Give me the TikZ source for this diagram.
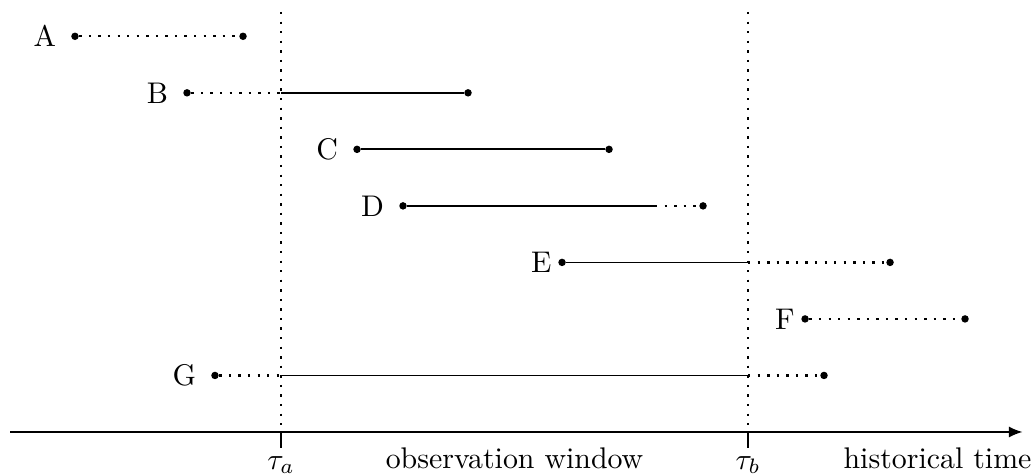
\documentclass[tikz,border=0pt]{standalone}
\usepackage{tikz}
\usetikzlibrary{arrows.meta,positioning}
\tikzset{
  endpt/.style={circle, fill=black, inner sep=0pt, minimum size=2.5pt},
  tag/.style={inner sep=1pt},
  seen/.style={line width=0.6pt},
  unseen/.style={line width=0.8pt, dash pattern=on 0.8pt off 2.4pt},
  window/.style={line width=0.8pt, dash pattern=on 0.8pt off 2.4pt},
  axis/.style={-{Latex[length=1.6mm,width=1.3mm]}, line width=0.6pt},
}
\begin{document}
\begin{tikzpicture}[node distance=1.3mm]
    \useasboundingbox (0,-0.506) rectangle (12.176,5.082);
    % observation window borders
    \coordinate (ta) at (3.306,0);      \coordinate (tb) at (8.8,0);
    \coordinate (ta top) at (3.306,4.941); \coordinate (tb top) at (8.8,4.941);
    \coordinate (ax0) at (0.118,0);     \coordinate (ax1) at (12.03,0);
    \draw[axis] (ax0) -- (ax1);
    \draw[window] (ta top) -- (ta);     \draw[window] (tb top) -- (tb);
    \draw[seen] (ta) -- ++(0,-0.188) coordinate (ta low);
    \draw[seen] (tb) -- ++(0,-0.188) coordinate (tb low);
    \node[anchor=base] (lta) at (3.306,-0.44) {$\tau_a$};
    \node[anchor=base] (ltb) at (8.8,-0.44) {$\tau_b$};
    \node[anchor=base] (low) at (6.053,-0.435) {observation window};
    \node[anchor=base east, inner sep=0pt] (lht) at (12.141,-0.435) {historical time};

    % A
    \node[endpt] (a0) at (0.882,4.655) {};  \node[endpt] (a1) at (2.859,4.655) {};
    \node[tag, left=of a0] (la) {A};
    \draw[unseen] (a0) -- (a1);
    % B
    \node[endpt] (b0) at (2.2,3.99) {};     \node[endpt] (b1) at (5.506,3.99) {};
    \coordinate (b in) at (3.306,3.99);
    \node[tag, left=of b0] (lb) {B};
    \draw[unseen] (b0) -- (b in); \draw[seen] (b in) -- (b1);
    % C
    \node[endpt] (c0) at (4.2,3.325) {};    \node[endpt] (c1) at (7.165,3.325) {};
    \node[tag, left=of c0] (lc) {C};
    \draw[seen] (c0) -- (c1);
    % D
    \node[endpt] (d0) at (4.741,2.66) {};   \node[endpt] (d1) at (8.271,2.66) {};
    \coordinate (d out) at (7.706,2.66);
    \node[tag, left=of d0] (ld) {D};
    \draw[seen] (d0) -- (d out); \draw[unseen] (d out) -- (d1);
    % E
    \node[endpt] (e0) at (6.612,1.995) {};  \node[endpt] (e1) at (10.471,1.995) {};
    \coordinate (e out) at (8.8,1.995);
    \node[tag, left=0.3mm of e0] (le) {E};
    \draw[seen] (e0) -- (e out); \draw[unseen] (e out) -- (e1);
    % F
    \node[endpt] (f0) at (9.471,1.33) {};   \node[endpt] (f1) at (11.353,1.33) {};
    \node[tag, left=0.3mm of f0] (lf) {F};
    \draw[unseen] (f0) -- (f1);
    % G
    \node[endpt] (g0) at (2.529,0.665) {};  \node[endpt] (g1) at (9.694,0.665) {};
    \coordinate (g in) at (3.306,0.665);    \coordinate (g out) at (8.8,0.665);
    \node[tag, left=of g0] (lg) {G};
    \draw[unseen] (g0) -- (g in); \draw[seen] (g in) -- (g out); \draw[unseen] (g out) -- (g1);
  \end{tikzpicture}
\end{document}
